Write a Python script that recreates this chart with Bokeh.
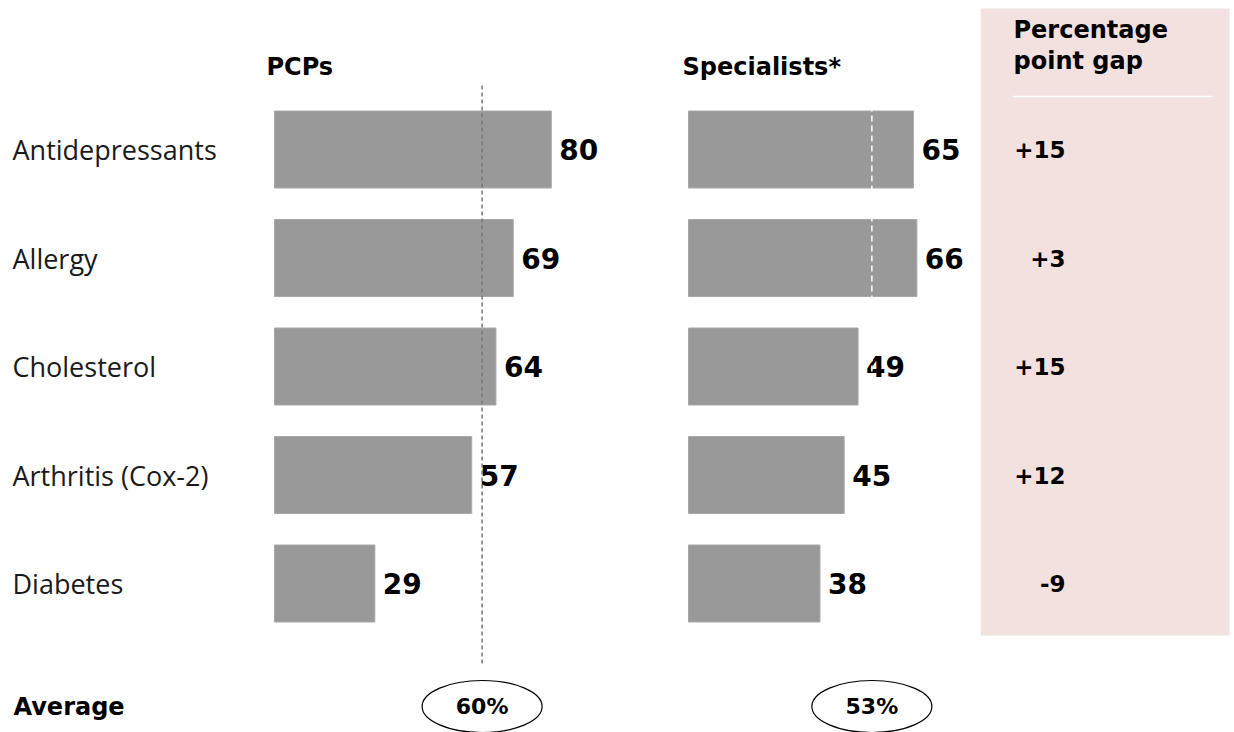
from bokeh.plotting import figure
from bokeh.layouts import row
from bokeh.models import Range1d
from bokeh.embed import file_html
from bokeh.resources import INLINE
from bokeh.core.properties import value

# ---------------- data ----------------
categories = ["Antidepressants", "Allergy", "Cholesterol", "Arthritis (Cox-2)", "Diabetes"]
pcp_values = [80, 69, 64, 57, 29]
specialist_values = [65, 66, 49, 45, 38]
gap_labels = ["+15", "+3", "+15", "+12", "-9"]
pcp_average = 60
specialist_average = 53
panel_titles = ["PCPs", "Specialists*"]
gap_title = ["Percentage", "point gap"]
average_label = "Average"

# ---------------- layout constants ----------------
H = 732
PX = 3.46            # pixels per percentage point
ROW0, STEP, BAR_H = 149, 108.5, 77
row_y = [ROW0 + i * STEP for i in range(len(categories))]
AVG_Y = 706
REG = value("Open Sans")
BOLD = value("DejaVu Sans")
BAR_COLOR = "#999999"


def base_fig(width, x_range):
    p = figure(width=width, height=H, x_range=x_range, y_range=Range1d(H, 0),
               output_backend="svg", toolbar_location=None, min_border=0)
    p.axis.visible = False
    p.grid.visible = False
    p.outline_line_color = None
    p.background_fill_color = "white"
    p.border_fill_color = "white"
    return p


# ---- labels column: page x=0..266 ----
W_LAB = 266
pl = base_fig(W_LAB, Range1d(0, W_LAB))
pl.text(x=[12] * len(categories), y=row_y, text=categories, text_font=REG,
        text_font_size="27px", text_baseline="middle", text_color="#1a1a1a")
pl.text(x=[13], y=[AVG_Y], text=[average_label], text_font=BOLD, text_font_style="bold",
        text_font_size="24px", text_baseline="middle", text_color="#000000")


def bar_panel(width, xstart, vals, avg, title, title_x, avg_line_color, avg_dash):
    p = base_fig(width, Range1d(xstart, xstart + width / PX))
    p.hbar(y=row_y, left=0, right=vals, height=BAR_H, fill_color=BAR_COLOR,
           line_color="#a8a8a8", line_width=1)
    p.text(x=vals, y=row_y, text=[str(v) for v in vals], x_offset=8,
           text_font=BOLD, text_font_style="bold", text_font_size="28px",
           text_baseline="middle", text_color="#000000")
    p.text(x=[title_x], y=[66], text=[title], text_font=BOLD, text_font_style="bold",
           text_font_size="24px", text_baseline="middle", text_color="#000000")
    p.segment(x0=[avg], x1=[avg], y0=[85], y1=[665], line_color=avg_line_color,
              line_width=1.5, line_dash=avg_dash)
    p.ellipse(x=[avg], y=[AVG_Y], width=120, height=52, width_units="screen",
              height_units="screen", fill_color=None, line_color="#000000", line_width=1.2)
    p.text(x=[avg], y=[AVG_Y], text=[f"{avg}%"], text_font=BOLD, text_font_style="bold",
           text_font_size="22px", text_align="center", text_baseline="middle",
           text_color="#000000")
    return p


# ---- PCP panel: page x=266..660, bar origin at page x=274 ----
pp = bar_panel(394, -8 / PX, pcp_values, pcp_average, panel_titles[0], -8 / PX,
               "#777777", "4 3")
# ---- Specialist panel: page x=660..980, bar origin at 688 ----
ps = bar_panel(320, -28 / PX, specialist_values, specialist_average, panel_titles[1],
               -6 / PX, "#ffffff", "6 4")

# ---- gap panel: page x=980..1234 ----
W_GAP = 254
pg = base_fig(W_GAP, Range1d(0, W_GAP))
pg.quad(left=[0], right=[249], top=[8], bottom=[635], fill_color="#f2e1de", line_color=None)
pg.text(x=[33, 33], y=[29, 60], text=gap_title, text_font=BOLD, text_font_style="bold",
        text_font_size="24px", text_baseline="middle", text_color="#000000")
pg.segment(x0=[32], x1=[232], y0=[96], y1=[96], line_color="#ffffff", line_width=1.5)
pg.text(x=[85] * len(gap_labels), y=row_y, text=gap_labels, text_font=BOLD,
        text_font_style="bold", text_font_size="23px", text_align="right",
        text_baseline="middle", text_color="#000000")

layout = row(pl, pp, ps, pg, spacing=0)
open("out.html", "w").write(file_html(layout, INLINE))
